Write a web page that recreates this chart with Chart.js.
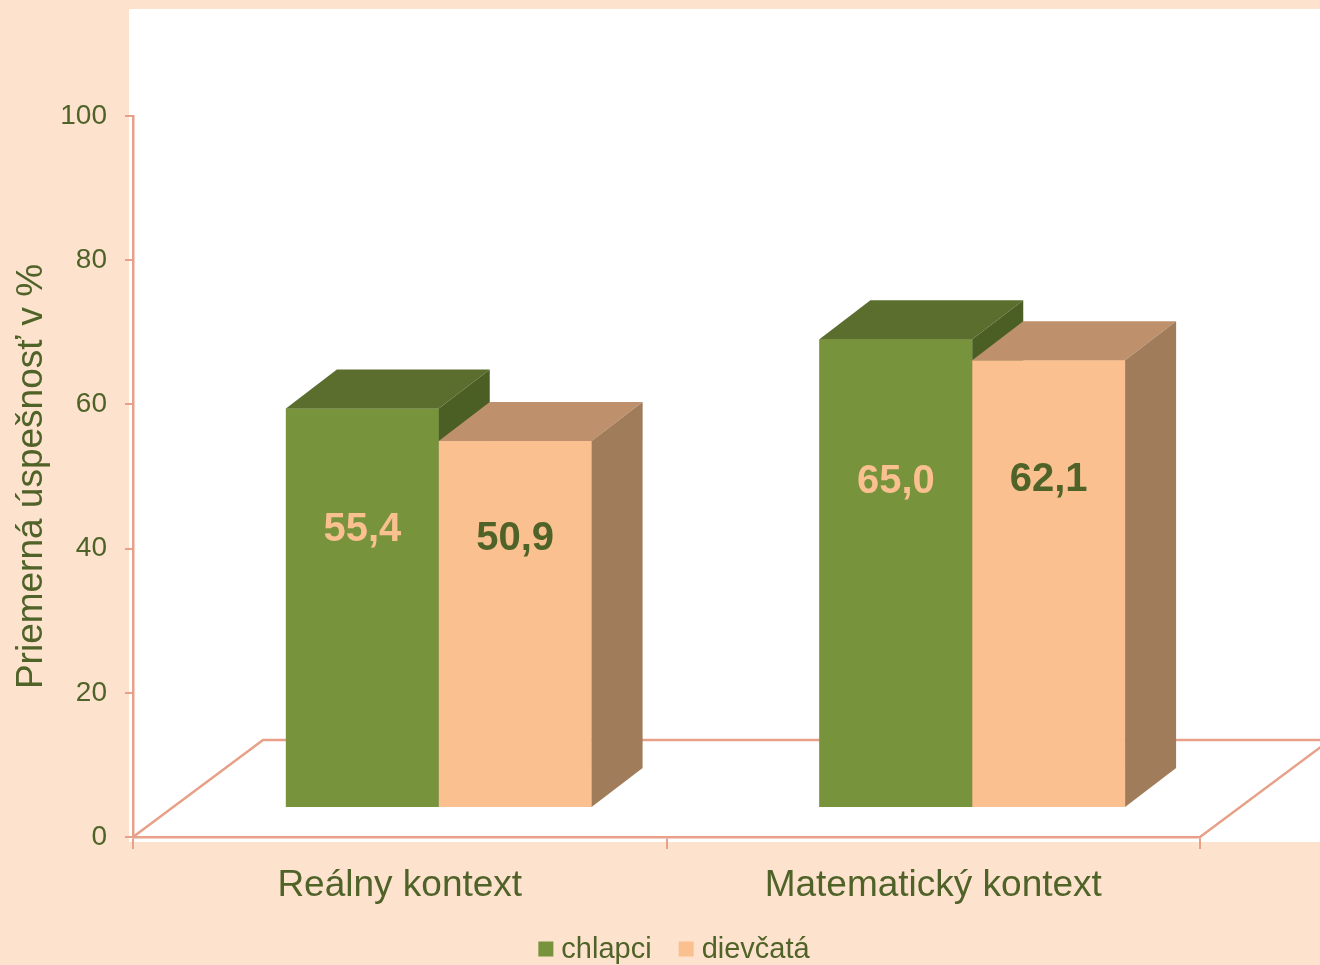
<!DOCTYPE html>
<html>
<head>
<meta charset="utf-8">
<title>Priemerná úspešnosť</title>
<script src="https://cdn.jsdelivr.net/npm/chart.js@4.4.0/dist/chart.umd.min.js"></script>
<style>
    html, body { margin: 0; padding: 0; background: #FDE2CD; }
    #wrap { width: 1320px; height: 965px; position: relative; }
</style>
</head>
<body>
<div id="wrap"><canvas id="chart"></canvas></div>
<script>
// --- dáta ---
const categories = ['Reálny kontext', 'Matematický kontext'];
const seriesNames = ['chlapci', 'dievčatá'];
const boys = [55.4, 65.0];
const girls = [50.9, 62.1];
const yTicks = [0, 20, 40, 60, 80, 100];

// --- farby / štýl ---
const PAGE_BG = '#FDE2CD';
const AXIS = '#E8A089';
const TEXT = '#4F6228';
const FRONT = ['#77933C', '#FAC090'];
const TOP = ['#5C6E2E', '#BE906C'];
const SIDE = ['#4B5F24', '#A07C5A'];
const LABEL_COLORS = ['#FAC090', '#4F6228'];
const LABEL_FRAC = [0.695, 0.732];
const FONT = 'Arial, "Liberation Sans", sans-serif';

// 3D posuny (podlaha, predná rovina stĺpcov, hĺbka stĺpca)
const FLOOR_DX = 130, FLOOR_DY = -97;
const SHIFT_X = 39, SHIFT_Y = -29;
const DEPTH_X = 51, DEPTH_Y = -39;

const fmt = v => v.toFixed(1).replace('.', ',');

// pozadie + biela plocha grafu
const paperPlugin = {
    id: 'paper',
    beforeDraw(chart) {
        const { ctx, width, height, chartArea } = chart;
        ctx.save();
        ctx.fillStyle = PAGE_BG;
        ctx.fillRect(0, 0, width, height);
        ctx.fillStyle = '#ffffff';
        ctx.fillRect(chartArea.left - 4, 9, width - chartArea.left + 4, chartArea.bottom + 5 - 9);
        ctx.restore();
    }
};

// podlaha a 3D kvádre
const box3dPlugin = {
    id: 'box3d',
    beforeDatasetsDraw(chart) {
        const { ctx } = chart;
        const x = chart.scales.x, y = chart.scales.y;
        const y0 = y.getPixelForValue(0);
        ctx.save();
        ctx.strokeStyle = AXIS;
        ctx.lineWidth = 2.5;
        ctx.beginPath();
        ctx.moveTo(x.left, y0);
        ctx.lineTo(x.left + FLOOR_DX, y0 + FLOOR_DY);
        ctx.lineTo(x.right + FLOOR_DX, y0 + FLOOR_DY);
        ctx.lineTo(x.right, y0);
        ctx.stroke();
        ctx.restore();

        // stĺpce stoja v prednej tretine podlahy
        ctx.save();
        ctx.translate(SHIFT_X, SHIFT_Y);
    },
    afterDatasetsDraw(chart) {
        const { ctx } = chart;
        const metas = chart.data.datasets.map((_, d) => chart.getDatasetMeta(d));
        categories.forEach((_, i) => {
            metas.forEach((meta, d) => {
                const bar = meta.data[i];
                const { x, y: top, base, width } = bar.getProps(['x', 'y', 'base', 'width'], true);
                const l = x - width / 2, r = x + width / 2;
                ctx.fillStyle = FRONT[d];
                ctx.fillRect(l, top, width, base - top);
                ctx.fillStyle = TOP[d];
                ctx.beginPath();
                ctx.moveTo(l, top);
                ctx.lineTo(l + DEPTH_X, top + DEPTH_Y);
                ctx.lineTo(r + DEPTH_X, top + DEPTH_Y);
                ctx.lineTo(r, top);
                ctx.closePath();
                ctx.fill();
                ctx.fillStyle = SIDE[d];
                ctx.beginPath();
                ctx.moveTo(r, top);
                ctx.lineTo(r + DEPTH_X, top + DEPTH_Y);
                ctx.lineTo(r + DEPTH_X, base + DEPTH_Y);
                ctx.lineTo(r, base);
                ctx.closePath();
                ctx.fill();
            });
        });
        // hodnoty
        ctx.font = 'bold 40px ' + FONT;
        ctx.textAlign = 'center';
        ctx.textBaseline = 'middle';
        metas.forEach((meta, d) => {
            const values = chart.data.datasets[d].data;
            meta.data.forEach((bar, i) => {
                const { x, y: top, base } = bar.getProps(['x', 'y', 'base'], true);
                ctx.fillStyle = LABEL_COLORS[d];
                ctx.fillText(fmt(values[i]), x, base - LABEL_FRAC[d] * (base - top));
            });
        });
        ctx.restore();
    }
};

// legenda dole
const legendPlugin = {
    id: 'bottomLegend',
    afterDraw(chart) {
        const { ctx } = chart;
        const box = 15, gap = 8, itemGap = 27, cy = 950;
        ctx.save();
        ctx.font = '29px ' + FONT;
        ctx.textBaseline = 'middle';
        ctx.textAlign = 'left';
        const widths = chart.data.datasets.map(ds => box + gap + ctx.measureText(ds.label).width);
        const total = widths.reduce((a, b) => a + b, 0) + itemGap * (widths.length - 1);
        let cx = 674 - total / 2;
        chart.data.datasets.forEach((ds, d) => {
            ctx.fillStyle = ds.backgroundColor;
            ctx.fillRect(cx, cy - box / 2 - 1, box, box);
            ctx.fillStyle = TEXT;
            ctx.fillText(ds.label, cx + box + gap, cy);
            cx += widths[d] + itemGap;
        });
        ctx.restore();
    }
};

const ctx = document.getElementById('chart').getContext('2d');
const myChart = new Chart(ctx, {
    type: 'bar',
    data: {
        labels: categories,
        datasets: [
            { label: seriesNames[0], data: boys, backgroundColor: FRONT[0], borderWidth: 0 },
            { label: seriesNames[1], data: girls, backgroundColor: FRONT[1], borderWidth: 0 }
        ]
    },
    options: {
        responsive: true,
        maintainAspectRatio: false,
        animation: false,
        events: [],
        layout: { padding: { top: 116, right: 120, left: 0, bottom: 0 } },
        datasets: { bar: { categoryPercentage: 0.573, barPercentage: 1 } },
        plugins: {
            legend: { display: false },
            tooltip: { enabled: false }
        },
        scales: {
            x: {
                grid: { drawOnChartArea: false, drawTicks: true, tickLength: 12, color: AXIS, lineWidth: 2 },
                border: { display: true, color: AXIS, width: 2.5 },
                ticks: { color: TEXT, font: { family: FONT, size: 37 }, padding: 15 },
                afterFit: s => { s.height = 128; }
            },
            y: {
                min: 0,
                max: 100,
                afterBuildTicks: s => { s.ticks = yTicks.map(v => ({ value: v })); },
                grid: { drawOnChartArea: false, drawTicks: true, tickLength: 8, color: AXIS, lineWidth: 2 },
                border: { display: true, color: AXIS, width: 2.5 },
                ticks: { color: TEXT, font: { family: FONT, size: 28 }, padding: 18 },
                title: {
                    display: true,
                    text: 'Priemerná úspešnosť v %',
                    color: TEXT,
                    font: { family: FONT, size: 37 },
                    padding: { top: 10, bottom: 0 }
                },
                afterFit: s => { s.width = 133; }
            }
        }
    },
    plugins: [paperPlugin, box3dPlugin, legendPlugin]
});
</script>
</body>
</html>
